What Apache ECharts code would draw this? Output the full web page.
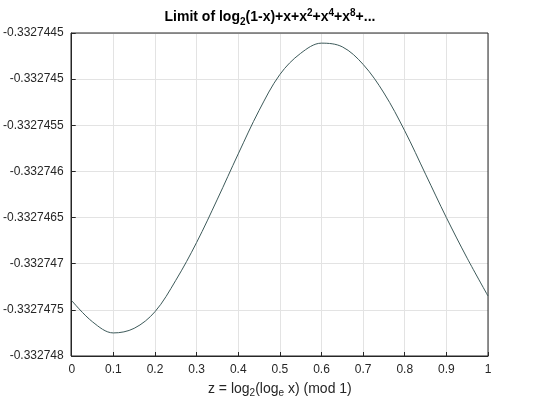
<!DOCTYPE html>
<html>
<head><meta charset="utf-8"></head>
<body style="margin:0">
<div id="container" style="width:540px;height:405px"></div>
<script src="https://cdn.jsdelivr.net/npm/echarts@6/dist/echarts.min.js"></script>
<script>
var xs = [0, 0.05, 0.1, 0.15, 0.2, 0.25, 0.3, 0.35, 0.4, 0.45, 0.5, 0.55, 0.6, 0.65, 0.7, 0.75, 0.8, 0.85, 0.9, 0.95, 1];
var ys = [-0.33274740, -0.33274763, -0.33274775, -0.33274770, -0.33274752, -0.33274718, -0.33274677,
  -0.33274630, -0.33274581, -0.33274534, -0.33274495, -0.33274472, -0.33274461,
  -0.33274465, -0.33274484, -0.33274515, -0.33274556, -0.33274603, -0.33274650, -0.33274694, -0.33274735];

var chart = echarts.init(document.getElementById('container'));
var font = 'Liberation Sans';
chart.setOption({
  animation: false,
  backgroundColor: '#fff',
  title: {
    text: '{t|Limit of log}{sub|2}{t|(1-x)+x+x}{sup|2}{t|+x}{sup|4}{t|+x}{sup|8}{t|+...}',
    left: 'center', top: 3,
    textStyle: {
      rich: {
        t: { fontFamily: font, fontWeight: 'bold', fontSize: 14, color: '#000' },
        sub: { fontFamily: font, fontWeight: 'bold', fontSize: 10, color: '#000', padding: [9, 0, 0, 0] },
        sup: { fontFamily: font, fontWeight: 'bold', fontSize: 10, color: '#000', padding: [0, 0, 8, 0] }
      }
    }
  },
  grid: { left: 71, right: 52, top: 33, bottom: 49 },
  xAxis: {
    type: 'value', min: 0, max: 1, interval: 0.1,
    name: '{t|z = log}{s|2}{t|(log}{s|e}{t| x) (mod 1)}',
    nameLocation: 'middle', nameGap: 24,
    nameTextStyle: { rich: {
      t: { fontFamily: font, fontSize: 14, color: '#262626' },
      s: { fontFamily: font, fontSize: 10, color: '#262626', padding: [8, 0, 0, 0] }
    } },
    axisLine: { lineStyle: { color: '#262626' } },
    axisTick: { inside: true, length: 4, lineStyle: { color: '#262626' } },
    axisLabel: { fontFamily: font, fontSize: 12, color: '#262626', formatter: function (v) { return parseFloat(v.toFixed(1)).toString(); } },
    splitLine: { show: true, lineStyle: { color: '#e3e3e3' } }
  },
  yAxis: {
    type: 'value', min: -0.332748, max: -0.3327445, interval: 0.0000005,
    axisLine: { show: true, lineStyle: { color: '#262626' } },
    axisTick: { show: true, inside: true, length: 4, lineStyle: { color: '#262626' } },
    axisLabel: { fontFamily: font, fontSize: 12, color: '#262626', formatter: function (v) { return parseFloat(v.toFixed(7)).toString(); } },
    splitLine: { show: true, lineStyle: { color: '#e3e3e3' } }
  },
  series: [{
    type: 'line', smooth: 0.35, showSymbol: false,
    data: xs.map(function (x, i) { return [x, ys[i]]; }),
    lineStyle: { color: '#3d5a5a', width: 1 }
  }]
});
// closed box like the original
chart.setOption({ graphic: [{ type: 'rect', shape: { x: 71, y: 33, width: 417, height: 323 }, style: { fill: null, stroke: '#262626', lineWidth: 1 }, silent: true }] });
</script>
</body>
</html>
